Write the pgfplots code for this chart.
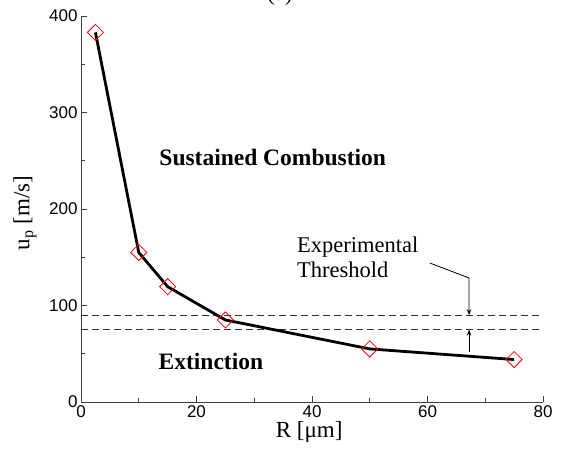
\documentclass[border=0pt]{standalone}
\usepackage{fontspec}
\setmainfont{Liberation Serif}
\setsansfont{Liberation Sans}
\usepackage{pgfplots}
\pgfplotsset{compat=1.18}
\usetikzlibrary{arrows.meta}
\begin{document}
\begin{tikzpicture}
  \useasboundingbox (-81pt,-47pt) rectangle (480pt,402pt);
  \begin{axis}[
    scale only axis, width=462pt, height=386pt,
    xmin=0, xmax=80, ymin=0, ymax=400,
    axis lines*=left,
    axis line style={-, black!75, line width=0.9pt},
    tick align=inside,
    xtick={0,20,...,80}, ytick={0,100,...,400},
    minor xtick={10,30,50,70}, minor ytick={50,150,250,350},
    major tick length=6pt, minor tick length=4pt,
    tick style={black!75, line width=0.9pt},
    tick label style={font=\fontsize{17}{17}\selectfont\sffamily},
    /pgf/number format/assume math mode=true,
    xlabel={R [μm]}, ylabel={u\textsubscript{p} [m/s]},
    label style={font=\fontsize{23}{23}\selectfont},
    xlabel style={at={(axis description cs:0.494,-0.078)}, anchor=center},
    ylabel style={at={(axis description cs:-0.121,0.49)}, anchor=center},
    clip=false,
  ]
    % experimental threshold band
    \addplot[black!80, line width=0.9pt, dash pattern=on 7pt off 4pt] coordinates {(0,90) (79.5,90)};
    \addplot[black!80, line width=0.9pt, dash pattern=on 7pt off 4pt] coordinates {(0,75) (79.5,75)};
    % simulated extinction velocity
    \addplot[black, line width=2.8pt, mark=square, mark size=5.7pt,
      mark options={rotate=45, draw=red, fill=white, line width=0.8pt, solid}]
      coordinates {(2.5,383) (10,155) (15,119.5) (25,85) (50,55) (75,44)};
    \node[font=\fontsize{23.5}{23.5}\selectfont\bfseries] at (axis cs:33.2,253) {Sustained Combustion};
    \node[font=\fontsize{23.5}{23.5}\selectfont\bfseries] at (axis cs:22.5,42.5) {Extinction};
    \node[font=\fontsize{22.5}{22.5}\selectfont, anchor=base west, inner sep=0pt] at (axis cs:37.4,155.4) {Experimental};
    \node[font=\fontsize{22.5}{22.5}\selectfont, anchor=base west, inner sep=0pt] at (axis cs:37.4,129.5) {Threshold};
    \draw[-{Stealth[length=6pt,width=4.5pt]}, line width=0.8pt] (axis cs:60.4,144) -- (axis cs:67.2,128.5) -- (axis cs:67.2,90);
    \draw[-{Stealth[length=6pt,width=4.5pt]}, line width=0.8pt] (axis cs:67.2,52) -- (axis cs:67.2,75);
  \end{axis}
  \node[font=\fontsize{23}{23}\selectfont, anchor=base] at (199pt,401pt) {(a)};
\end{tikzpicture}
\end{document}
